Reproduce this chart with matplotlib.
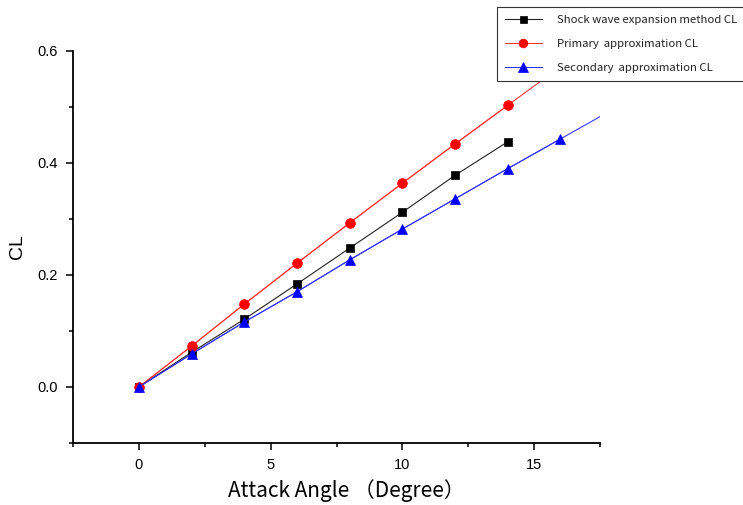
import numpy as np
import matplotlib
matplotlib.use("Agg")
import matplotlib.pyplot as plt
from matplotlib.ticker import MultipleLocator

angles_shock = [0, 2, 4, 6, 8, 10, 12, 14]
cl_shock = [0.0, 0.062, 0.121, 0.184, 0.248, 0.312, 0.378, 0.438]

angles_primary = [0, 2, 4, 6, 8, 10, 12, 14]
cl_primary = [0.0, 0.073, 0.148, 0.221, 0.293, 0.364, 0.434, 0.503]

angles_secondary = [0, 2, 4, 6, 8, 10, 12, 14, 16]
cl_secondary = [0.0, 0.059, 0.116, 0.170, 0.227, 0.282, 0.336, 0.390, 0.443]

labels = ["Shock wave expansion method CL",
          "Primary  approximation CL",
          "Secondary  approximation CL"]

plt.rcParams["font.family"] = ["Liberation Sans", "DejaVu Sans"]
cjk = ["Noto Sans CJK SC", "DejaVu Sans"]

fig = plt.figure(figsize=(7.43, 5.05), dpi=100)
ax = fig.add_axes([73/743, 1-443/505, (600-73)/743, (443-51)/505])

def extend(xs, ys, xend):
    # continue the last segment's straight line to the axes edge
    x0, x1 = xs[-2], xs[-1]
    y0, y1 = ys[-2], ys[-1]
    slope = (y1 - y0) / (x1 - x0)
    return list(xs) + [xend], list(ys) + [y1 + slope * (xend - x1)]

ax.plot(angles_shock, cl_shock, color="#222222", lw=0.8, marker="s", ms=5.6,
        mfc="black", mec="black", mew=0.5, label=labels[0], zorder=3)
ex, ey = extend(angles_primary, cl_primary, 18)
ax.plot(ex, ey, color="#ff3030", lw=0.75, zorder=2)
ax.plot(angles_primary, cl_primary, color="#ff3030", lw=0.75, marker="o", ms=7.0,
        mfc="red", mec="red", mew=0.5, label=labels[1], zorder=3)
ex, ey = extend(angles_secondary, cl_secondary, 18)
ax.plot(ex, ey, color="#3030ff", lw=0.75, zorder=2)
ax.plot(angles_secondary, cl_secondary, color="#3030ff", lw=0.75, marker="^", ms=7.4,
        mfc="blue", mec="blue", mew=0.5, label=labels[2], zorder=4)

ax.set_xlim(-2.5, 17.5)
ax.set_ylim(-0.1, 0.6)
ax.spines["top"].set_visible(False)
ax.spines["right"].set_visible(False)
for s in ["left", "bottom"]:
    ax.spines[s].set_linewidth(1.3)

ax.xaxis.set_major_locator(MultipleLocator(5))
ax.xaxis.set_minor_locator(MultipleLocator(2.5))
ax.yaxis.set_major_locator(MultipleLocator(0.2))
ax.yaxis.set_minor_locator(MultipleLocator(0.1))
ax.tick_params(which="major", direction="out", length=5, width=1.1, labelsize=10.5, pad=6)
ax.tick_params(which="minor", direction="out", length=3, width=1.1)
ax.set_xticks([0, 5, 10, 15])
ax.set_xticklabels(["0", "5", "10", "15"])
ax.set_yticks([0.0, 0.2, 0.4, 0.6])
ax.set_yticklabels(["0.0", "0.2", "0.4", "0.6"])

ax.set_xlabel("Attack Angle （Degree）", family=cjk, fontsize=15)
ax.xaxis.set_label_coords((346-73)/527, -0.093)
ax.set_ylabel("CL", fontsize=14, labelpad=8)

leg = fig.legend(loc="upper left", bbox_to_anchor=(497/743, 1-7/505),
                 bbox_transform=fig.transFigure, borderaxespad=0,
                 prop={"family": cjk, "size": 8.2}, fancybox=False,
                 framealpha=1, edgecolor="#333333", handlelength=3.25,
                 handletextpad=1.3, labelspacing=1.23, borderpad=0.7,
                 markerscale=0.9)
leg.get_frame().set_linewidth(0.8)
for t in leg.get_texts():
    t.set_color("#222222")

fig.savefig("out.png", dpi=100)
